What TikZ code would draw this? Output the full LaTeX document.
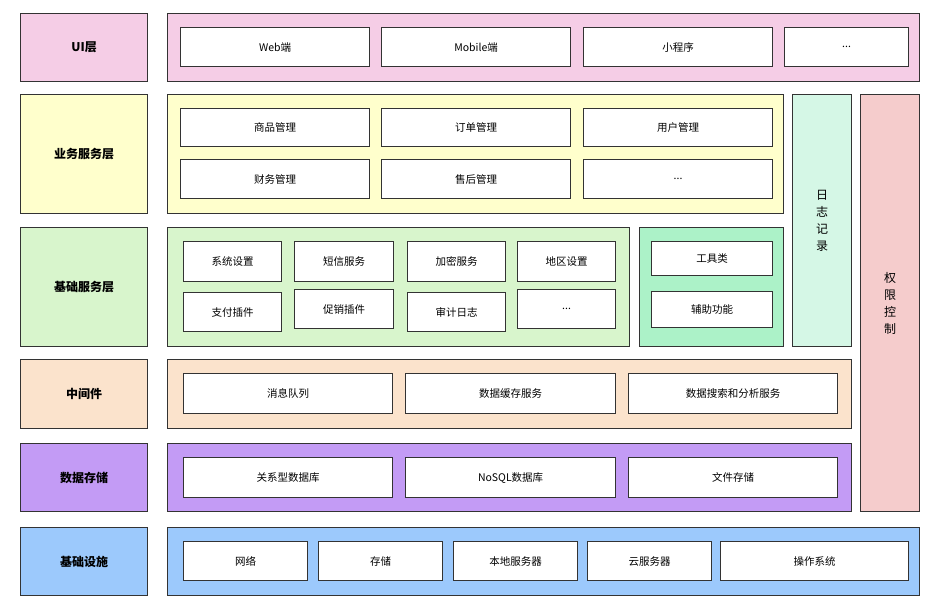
\documentclass[tikz,border=0pt]{standalone}
\usepackage{fontspec}
\setmainfont{Noto Sans CJK SC}
\begin{document}
\begin{tikzpicture}[x=1pt,y=-1pt,
 lay/.style={draw=black!80,line width=1.2pt},
 box/.style={draw=black!80,line width=1.2pt,fill=white},
 lbl/.style={font=\fontsize{12}{14}\selectfont\bfseries},
 txt/.style={font=\fontsize{10.5}{12}\selectfont}]
\useasboundingbox (0,0) rectangle (936,608);
\definecolor{cui}{HTML}{F5CDE6}
\definecolor{cbiz}{HTML}{FFFFCC}
\definecolor{cbase}{HTML}{D8F5CC}
\definecolor{ctool}{HTML}{ACF2C8}
\definecolor{clog}{HTML}{D5F7E6}
\definecolor{cauth}{HTML}{F5CCCC}
\definecolor{cmid}{HTML}{FBE3CC}
\definecolor{cdata}{HTML}{C39BF5}
\definecolor{cinf}{HTML}{9CC9FC}
% layer boxes
\newcommand\lay[7]{\node[lay,fill=#6,minimum width=#3-#1,minimum height=#4-#2,anchor=north west,inner sep=0,lbl,align=center] (#5) at (#1,#2) {#7};}
\newcommand\bx[6]{\node[box,minimum width=#3-#1,minimum height=#4-#2,anchor=north west,inner sep=0,txt] (#5) at (#1,#2) {#6};}
\lay{20}{13}{147}{81}{l1}{cui}{UI层}
\lay{167}{13}{919}{81}{m1}{cui}{}
\lay{20}{94}{147}{213}{l2}{cbiz}{业务服务层}
\lay{167}{94}{783}{213}{m2}{cbiz}{}
\lay{792}{94}{851}{346}{log}{clog}{}
\node[txt,font=\fontsize{12}{17}\selectfont,align=center] (logt) at (log.center) {日\\志\\记\\录};
\lay{860}{94}{919}{511}{auth}{cauth}{}
\node[txt,font=\fontsize{12}{17}\selectfont,align=center] (autht) at (auth.center) {权\\限\\控\\制};
\lay{20}{227}{147}{346}{l3}{cbase}{基础服务层}
\lay{167}{227}{629}{346}{m3}{cbase}{}
\lay{639}{227}{783}{346}{tool}{ctool}{}
\lay{20}{359}{147}{428}{l4}{cmid}{中间件}
\lay{167}{359}{851}{428}{m4}{cmid}{}
\lay{20}{443}{147}{511}{l5}{cdata}{数据存储}
\lay{167}{443}{851}{511}{m5}{cdata}{}
\lay{20}{527}{147}{595}{l6}{cinf}{基础设施}
\lay{167}{527}{919}{595}{m6}{cinf}{}
% UI
\bx{180}{27}{369}{66}{u1}{Web端}
\bx{381}{27}{570}{66}{u2}{Mobile端}
\bx{583}{27}{772}{66}{u3}{小程序}
\bx{784}{27}{908}{66}{u4}{...}
% biz
\bx{180}{108}{369}{146}{b1}{商品管理}
\bx{381}{108}{570}{146}{b2}{订单管理}
\bx{583}{108}{772}{146}{b3}{用户管理}
\bx{180}{159}{369}{198}{b4}{财务管理}
\bx{381}{159}{570}{198}{b5}{售后管理}
\bx{583}{159}{772}{198}{b6}{...}
% base
\bx{183}{241}{281}{281}{s1}{系统设置}
\bx{294}{241}{393}{281}{s2}{短信服务}
\bx{407}{241}{505}{281}{s3}{加密服务}
\bx{517}{241}{615}{281}{s4}{地区设置}
\bx{183}{292}{281}{331}{s5}{支付插件}
\bx{294}{289}{393}{328}{s6}{促销插件}
\bx{407}{292}{505}{331}{s7}{审计日志}
\bx{517}{289}{615}{328}{s8}{...}
\bx{651}{241}{772}{275}{t1}{工具类}
\bx{651}{291}{772}{327}{t2}{辅助功能}
% mid
\bx{183}{373}{392}{413}{z1}{消息队列}
\bx{405}{373}{615}{413}{z2}{数据缓存服务}
\bx{628}{373}{837}{413}{z3}{数据搜索和分析服务}
% data
\bx{183}{457}{392}{497}{d1}{关系型数据库}
\bx{405}{457}{615}{497}{d2}{NoSQL数据库}
\bx{628}{457}{837}{497}{d3}{文件存储}
% infra
\bx{183}{541}{307}{580}{i1}{网络}
\bx{318}{541}{442}{580}{i2}{存储}
\bx{453}{541}{577}{580}{i3}{本地服务器}
\bx{587}{541}{711}{580}{i4}{云服务器}
\bx{720}{541}{908}{580}{i5}{操作系统}
\end{tikzpicture}
\end{document}
